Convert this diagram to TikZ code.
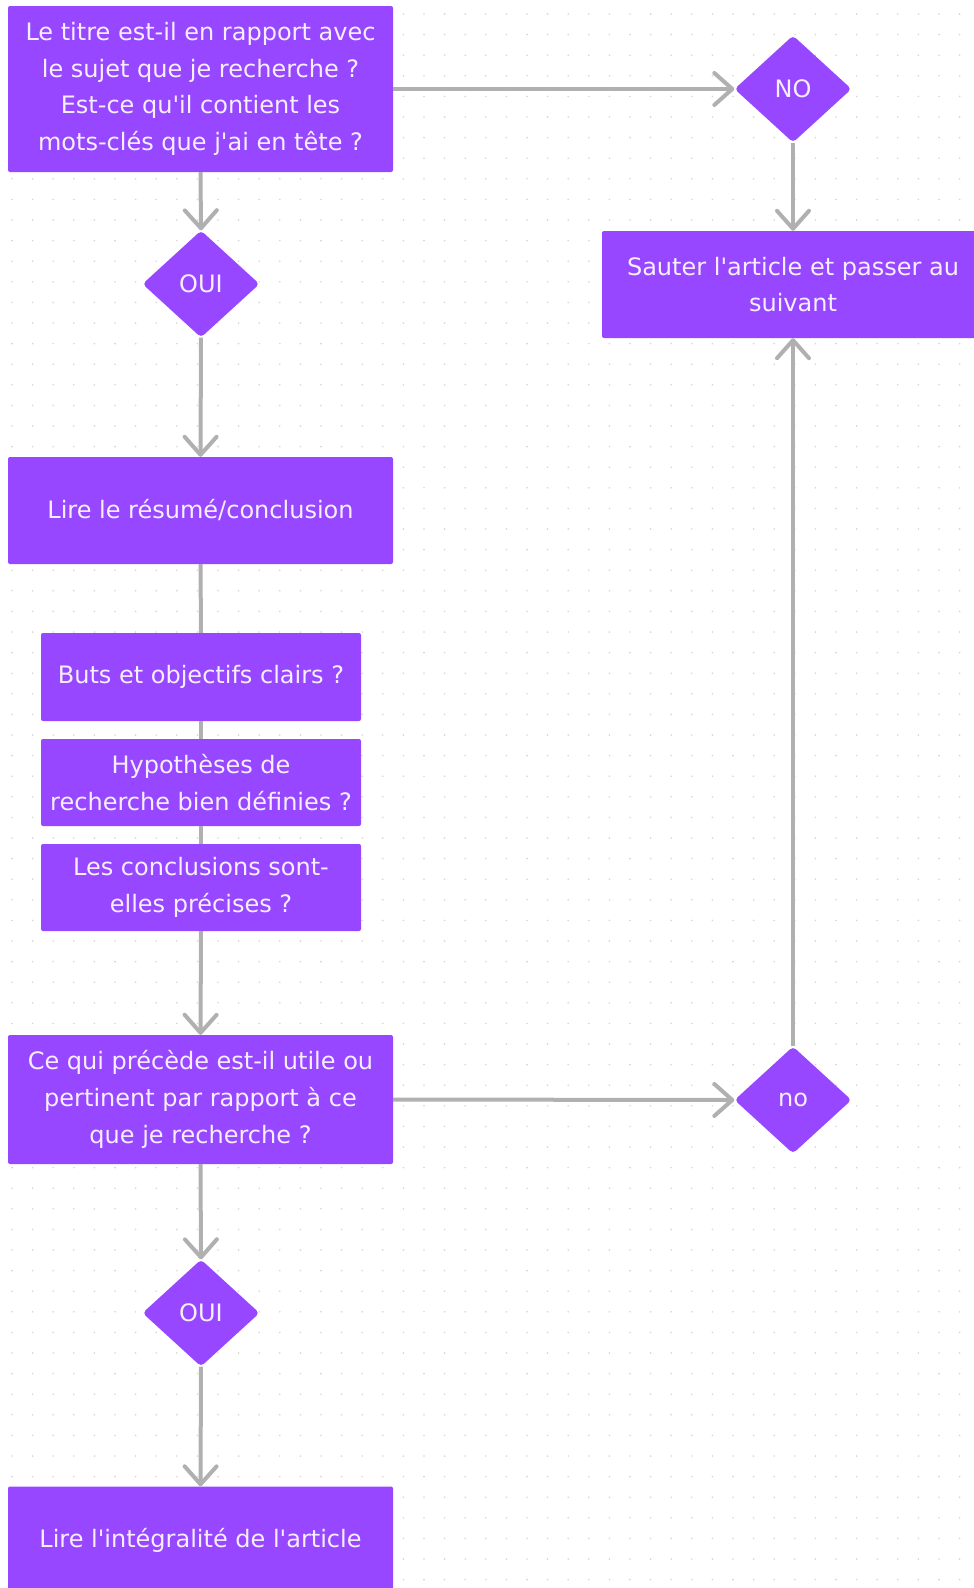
\documentclass[tikz,border=0pt]{standalone}
\usepackage{fontspec}
\setmainfont{DejaVu Sans}[Ligatures=TeXOff]
\usetikzlibrary{shapes.geometric,arrows.meta}
\definecolor{figpurple}{HTML}{9747FF}
\definecolor{linegray}{HTML}{B0B0B0}
\definecolor{dotgray}{HTML}{D6D6D6}
\definecolor{paletext}{HTML}{F7EEFF}
\begin{document}
\begin{tikzpicture}[x=1pt,y=-1pt,
	box/.style={fill=figpurple,text=paletext,rounded corners=2pt,align=center,inner sep=0pt,
		minimum width=385pt,font=\fontsize{24}{36.7}\selectfont},
	smallbox/.style={box,minimum width=320pt,minimum height=87pt},
	choice/.style={diamond,fill=figpurple,text=paletext,rounded corners=4pt,inner sep=0pt,
		minimum width=117pt,minimum height=107pt,font=\fontsize{24}{28}\selectfont},
	link/.style={draw=linegray,line width=4pt},
	arr/.style={link,-{Straight Barb[length=18pt,width=32pt,round]}}]
			\useasboundingbox(0,0) rectangle (974,1588);
			\fill[white](0,0) rectangle (974,1588);
			% dot grid
			\foreach \i in {0,...,47}
				\foreach \j in {0,...,77}
					\fill[dotgray](12+\i*20.6,14+\j*20.6) circle (0.9);
			\node[box,minimum height=166pt](titre) at(200.5,89){Le titre est-il en rapport avec\\le sujet que je recherche ?\\Est-ce qu'il contient les\\mots-clés que j'ai en tête ?};
			\node[choice](no1) at(793,89){NO};
			\node[box,minimum width=382pt,minimum height=107pt](sauter) at(793,284.5){Sauter l'article et passer au\\suivant};
			\node[choice](oui1) at(201,284){OUI};
			\node[box,minimum height=107pt](resume) at(200.5,510.5){Lire le résumé/conclusion};
			\node[smallbox,minimum height=88pt](buts) at(201,677){Buts et objectifs clairs ?};
			\node[smallbox](hypo) at(201,782.5){Hypothèses de\\recherche bien définies ?};
			\node[smallbox](concl) at(201,887.5){Les conclusions sont-\\elles précises ?};
			\node[box,minimum height=129pt](utile) at(200.5,1099.5){Ce qui précède est-il utile ou\\pertinent par rapport à ce\\que je recherche ?};
			\node[choice](no2) at(793,1100){no};
			\node[choice](oui2) at(201,1313){OUI};
			\node[box,minimum height=107pt](integral) at(200.5,1540){Lire l'intégralité de l'article};
			\draw[arr](titre.east)--(no1.west);
			\draw[arr](no1.south)--(sauter.north);
			\draw[arr](titre.south)--(oui1.north);
			\draw[arr](oui1.south)--(resume.north);
			\draw[link](resume.south)--(buts.north);
			\draw[link](buts.south)--(hypo.north);
			\draw[link](hypo.south)--(concl.north);
			\draw[arr](concl.south)--(utile.north);
			\draw[arr](utile.east)--(no2.west);
			\draw[arr](no2.north)--(sauter.south);
			\draw[arr](utile.south)--(oui2.north);
			\draw[arr](oui2.south)--(integral.north);
\end{tikzpicture}
\end{document}
